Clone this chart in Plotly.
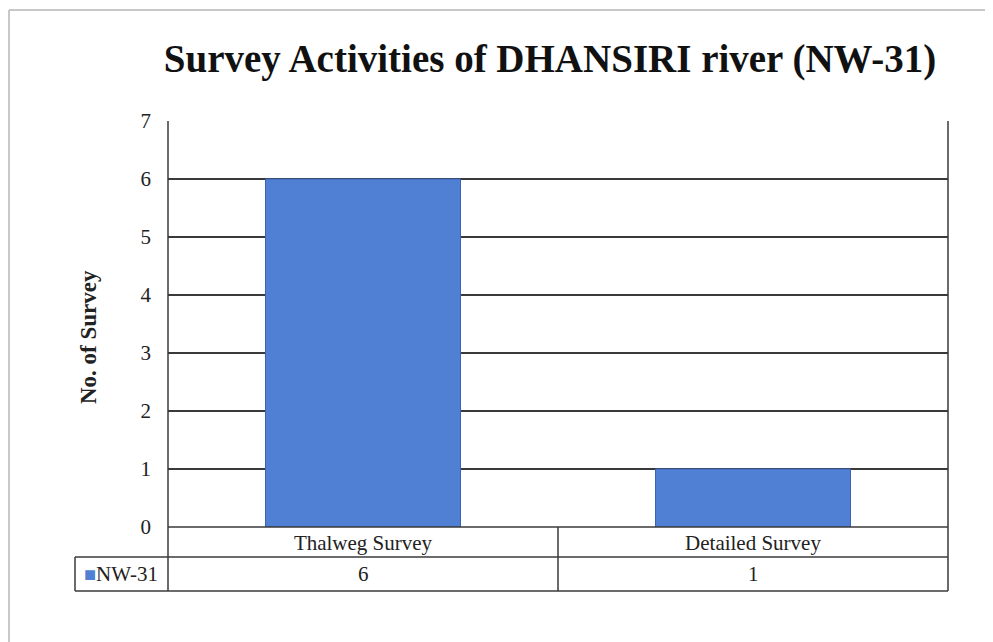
import plotly.graph_objects as go

categories = ["Thalweg Survey", "Detailed Survey"]
series_name = "NW-31"
values = [6, 1]
y_ticks = [0, 1, 2, 3, 4, 5, 6, 7]

# page body has an 8px margin, so the figure is laid out in shifted coordinates
OFF = 8
W, H = 993 - OFF, 642 - OFF
L, R, T, B = 160, 45, 113, 115
pw, ph = W - L - R, H - T - B

def px(x):
    return (x - OFF - L) / pw

def py(y):
    return (H - B - (y - OFF)) / ph

font = "Liberation Serif"
line_col = "#3a3a3a"
bar_col = "#5080d3"

fig = go.Figure()
fig.add_trace(go.Bar(
    x=categories, y=values, name=series_name, width=0.5,
    marker=dict(color=bar_col, line=dict(color="#3b62b4", width=1)),
))

shapes = []
def hline(y0, x0, x1, col=line_col, w=1.5):
    shapes.append(dict(type="line", xref="paper", yref="paper", x0=x0, x1=x1, y0=y0, y1=y0,
                       line=dict(color=col, width=w)))
def vline(x0, y0, y1, col=line_col, w=1.5):
    shapes.append(dict(type="line", xref="paper", yref="paper", x0=x0, x1=x0, y0=y0, y1=y1,
                       line=dict(color=col, width=w)))

# data table lines
hline(py(557), px(75), 1)
hline(py(591), px(75), 1)
hline(0, 0, 1)
vline(0, 1, py(591))
vline(1, 1, py(591))
vline(px(75), py(557), py(591))
vline(0.5, 0, py(591))
# outer chart border
hline(py(10), px(9), px(1000), col="#c8c8c8", w=2)
vline(px(9), py(10), py(650), col="#c8c8c8", w=2)

annotations = []
for cat, v in zip(categories, values):
    annotations.append(dict(x=cat, xref="x", y=py(574), yref="paper", text=str(v),
                            showarrow=False, font=dict(family=font, size=21, color="#222"),
                            yanchor="middle"))
annotations.append(dict(x=px(82), y=py(574), xref="paper", yref="paper", xanchor="left",
                        yanchor="middle", showarrow=False,
                        text="<span style='color:%s;font-size:20px'>■</span>%s" % (bar_col, series_name),
                        font=dict(family=font, size=21, color="#222")))
annotations.append(dict(x=px(88), y=py(337), xref="paper", yref="paper", xanchor="center",
                        yanchor="middle", showarrow=False, textangle=-90,
                        text="<b>No. of Survey</b>",
                        font=dict(family=font, size=23, color="#222")))

fig.update_layout(
    width=W, height=H,
    margin=dict(l=L, r=R, t=T, b=B),
    paper_bgcolor="white", plot_bgcolor="white",
    showlegend=False,
    title=dict(text="<b>Survey Activities of DHANSIRI river (NW-31)</b>",
               x=(550 - OFF) / W, xanchor="center", y=1 - (58 - OFF) / H, yanchor="middle",
               font=dict(family=font, size=39, color="#111")),
    font=dict(family=font, color="#222"),
    shapes=shapes,
    annotations=annotations,
    bargap=0.5,
)
fig.update_xaxes(showgrid=False, showline=False, zeroline=False, ticks="",
                 tickfont=dict(family=font, size=21, color="#222"),
                 ticklabelstandoff=1)
fig.update_yaxes(range=[0, 7], tickvals=y_ticks, showgrid=True, gridcolor=line_col, gridwidth=1.5,
                 zeroline=False, showline=False, ticks="",
                 tickfont=dict(family=font, size=21, color="#222"), ticklabelstandoff=16)

fig.write_html("out.html")
